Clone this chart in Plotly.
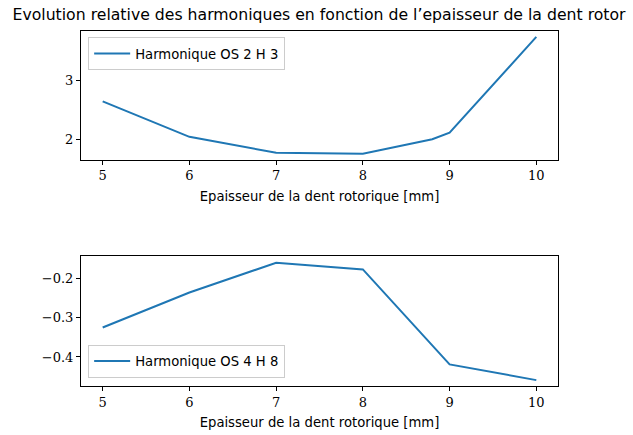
import plotly.graph_objects as go
from plotly.subplots import make_subplots

# Tooth thickness [mm] and relative harmonic amplitudes
thickness_os2 = [5, 6, 7, 8, 8.8, 9, 10]
harm_os2_h3 = [2.64, 2.04, 1.77, 1.755, 2.0, 2.11, 3.73]

thickness_os4 = [5, 6, 7, 8, 9, 10]
harm_os4_h8 = [-0.325, -0.236, -0.160, -0.177, -0.419, -0.459]

x_ticks = [5, 6, 7, 8, 9, 10]
top_y_ticks = [2, 3]
bottom_y_ticks = [-0.4, -0.3, -0.2]
bottom_y_labels = ["\u22120.4", "\u22120.3", "\u22120.2"]

LINE = "#1f77b4"
SANS = "DejaVu Sans, sans-serif"
SERIF = "DejaVu Serif, serif"

fig = make_subplots(rows=2, cols=1)

fig.add_trace(go.Scatter(x=thickness_os2, y=harm_os2_h3, mode="lines",
                         name="Harmonique OS 2 H 3", showlegend=True,
                         line=dict(color=LINE, width=2), legend="legend"),
              row=1, col=1)
fig.add_trace(go.Scatter(x=thickness_os4, y=harm_os4_h8, mode="lines",
                         name="Harmonique OS 4 H 8", showlegend=True,
                         line=dict(color=LINE, width=2), legend="legend2"),
              row=2, col=1)

axis_common = dict(showline=True, linecolor="black", linewidth=1, mirror=True,
                   ticks="outside", ticklen=4, tickcolor="black", tickwidth=1,
                   showgrid=False, zeroline=False, automargin=False,
                   tickfont=dict(family=SERIF, size=13, color="black"))

xtitle = dict(text="Epaisseur de la dent rotorique [mm]",
              font=dict(family=SANS, size=13.2, color="black"), standoff=9)

legend_common = dict(bgcolor="white", bordercolor="#cccccc", borderwidth=1,
                     itemwidth=36,
                     font=dict(family=SANS, size=13.2, color="black"))

fig.update_layout(
    width=633, height=435,
    margin=dict(l=81, r=75, t=31, b=49, autoexpand=False),
    paper_bgcolor="white", plot_bgcolor="white",
    showlegend=True,
    title=dict(text="Evolution relative des harmoniques en fonction de l\u2019epaisseur de la dent rotor",
               font=dict(family=SANS, size=15.7, color="black"),
               x=0.504, xanchor="center", y=0.967, yanchor="middle"),
    xaxis=dict(domain=[0, 1], range=[4.75, 10.25], tickvals=x_ticks,
               title=xtitle, anchor="y", **axis_common),
    yaxis=dict(domain=[0.638, 1], range=[1.656, 3.83], tickvals=top_y_ticks,
               anchor="x", **axis_common),
    xaxis2=dict(domain=[0, 1], range=[4.75, 10.25], tickvals=x_ticks,
                title=xtitle, anchor="y2", **axis_common),
    yaxis2=dict(domain=[0, 0.365], range=[-0.474, -0.144], tickvals=bottom_y_ticks,
                ticktext=bottom_y_labels, anchor="x2", **axis_common),
    legend=dict(x=0.015, y=0.982, xanchor="left", yanchor="top", **legend_common),
    legend2=dict(x=0.015, y=0.023, xanchor="left", yanchor="bottom", **legend_common),
)

fig.write_html("out.html")
